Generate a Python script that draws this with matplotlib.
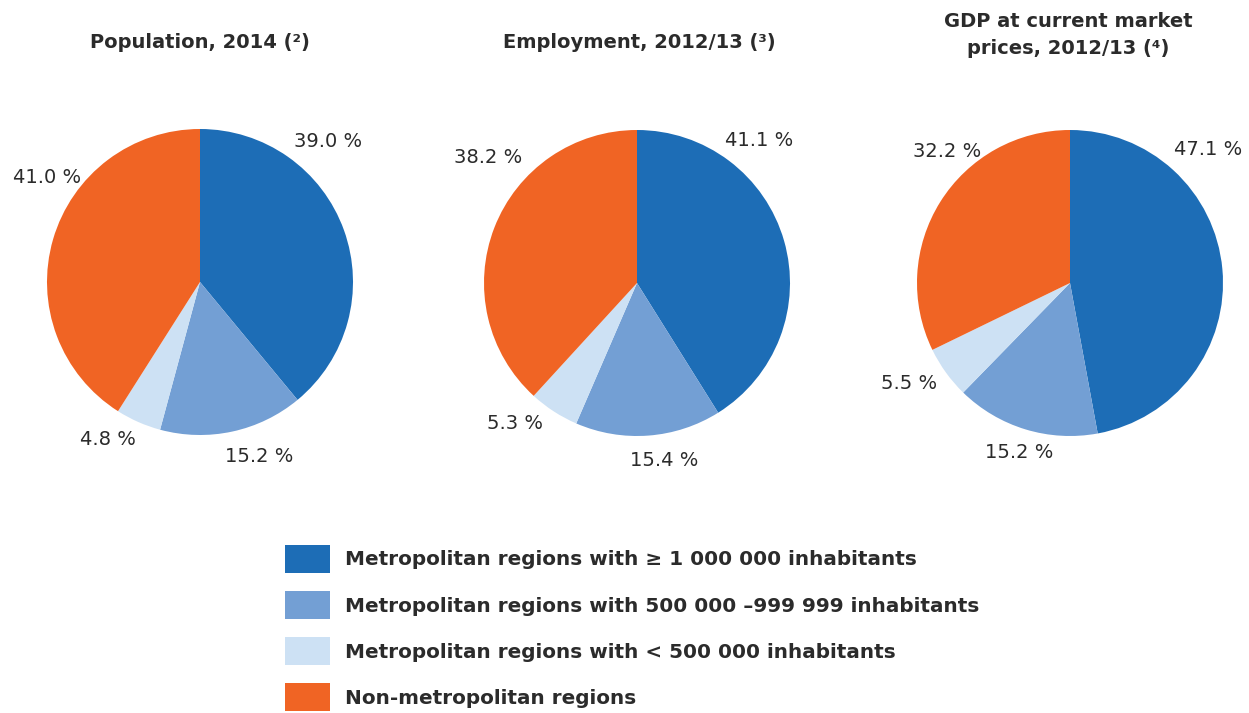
import numpy as np
import matplotlib
matplotlib.use('Agg')
import matplotlib.pyplot as plt
from matplotlib.patches import Patch

# data
categories = ['Metropolitan regions with \u2265 1 000 000 inhabitants',
              'Metropolitan regions with 500 000 \u2013999 999 inhabitants',
              'Metropolitan regions with < 500 000 inhabitants',
              'Non-metropolitan regions']
titles = ['Population, 2014 (\u00b2)', 'Employment, 2012/13 (\u00b3)',
          'GDP at current market\nprices, 2012/13 (\u2074)']
population = [39.0, 15.2, 4.8, 41.0]
employment = [41.1, 15.4, 5.3, 38.2]
gdp = [47.1, 15.2, 5.5, 32.2]

colors = ['#1d6db6', '#739fd4', '#cde1f4', '#f06424']

# layout (pixels in a 1249x713 figure)
W, H = 1249, 713
centers = [(200, 282), (637, 283), (1070, 283)]
radius = 153
title_pos = [(200, 42), (639, 42), (1068, 35)]
# label positions in pie units (radius = 1)
label_pos = [
    [(0.84, 0.92), (0.39, -1.14), (-0.60, -1.03), (-1.00, 0.68)],
    [(0.80, 0.93), (0.18, -1.16), (-0.80, -0.92), (-0.97, 0.82)],
    [(0.90, 0.87), (-0.33, -1.11), (-1.05, -0.66), (-0.80, 0.86)],
]

plt.rcParams['font.family'] = ['DejaVu Sans']
fig = plt.figure(figsize=(W / 100, H / 100), dpi=100)

for i, vals in enumerate([population, employment, gdp]):
    cx, cy = centers[i]
    ax = fig.add_axes([(cx - radius) / W, (H - cy - radius) / H,
                       2 * radius / W, 2 * radius / H])
    ax.pie(vals, colors=colors, startangle=90, counterclock=False,
           radius=1, wedgeprops=dict(linewidth=0))
    ax.set_xlim(-1, 1)
    ax.set_ylim(-1, 1)
    for v, (lx, ly) in zip(vals, label_pos[i]):
        ax.text(lx, ly, f'{v:.1f} %', ha='center', va='center',
                fontsize=14, color='#2b2b2b')
    tx, ty = title_pos[i]
    fig.text(tx / W, 1 - ty / H, titles[i], ha='center', va='center',
             fontsize=14, fontweight='bold', color='#2b2b2b',
             linespacing=1.5)

handles = [Patch(facecolor=c, edgecolor='none') for c in colors]
fig.legend(handles, categories, loc='upper left',
           bbox_to_anchor=(277 / W, 1 - 537 / H), frameon=False,
           prop=dict(size=14.4, weight='bold'), labelcolor='#2b2b2b',
           handlelength=2.25, handleheight=1.78, labelspacing=0.9,
           handletextpad=0.75, borderaxespad=0)

fig.savefig('out.png', dpi=100)
